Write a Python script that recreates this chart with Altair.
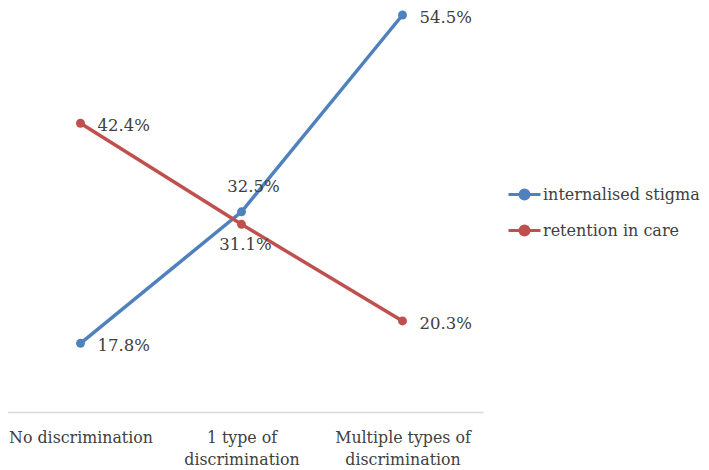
import altair as alt
import pandas as pd

categories = ["No discrimination", "1 type of discrimination", "Multiple types of discrimination"]
tick_lines = [["No discrimination"], ["1 type of", "discrimination"], ["Multiple types of", "discrimination"]]
series = ["internalised stigma", "retention in care"]
stigma = [17.8, 32.5, 54.5]
retention = [42.4, 31.1, 20.3]
colors = ["#4F81BD", "#C0504D"]

rows = []
for i, c in enumerate(categories):
    rows.append({"cat": c, "idx": i, "series": series[0], "value": stigma[i]})
    rows.append({"cat": c, "idx": i, "series": series[1], "value": retention[i]})
df = pd.DataFrame(rows)
df["label"] = df["value"].map(lambda v: f"{v:.1f}%")

parts = []
for c, lines in zip(categories, tick_lines):
    arr = "[" + ",".join("'" + l + "'" for l in lines) + "]"
    parts.append(f"datum.label == '{c}' ? {arr} : ")
label_expr = "".join(parts) + "datum.label"

FONT = "DejaVu Serif"
TEXT = "#404040"
FS = 16.5

x = alt.X("cat:N", sort=categories,
          scale=alt.Scale(type="point", padding=0.5),
          axis=alt.Axis(title=None, labelAngle=0, labelExpr=label_expr, ticks=False,
                        domainColor="#D9D9D9", domainWidth=1.5, labelPadding=18,
                        labelFont=FONT, labelFontSize=15.8, labelColor=TEXT,
                        labelLineHeight=22, labelBaseline="top", labelLimit=0))
y = alt.Y("value:Q", scale=alt.Scale(domain=[10.12, 54.5], nice=False, zero=False), axis=None)
color = alt.Color("series:N", sort=series,
                  scale=alt.Scale(domain=series, range=colors),
                  legend=alt.Legend(title=None, orient="none", legendX=507, legendY=162,
                                    labelFont=FONT, labelFontSize=16, labelColor=TEXT,
                                    labelLimit=0,
                                    symbolType="M-1,0L1,0M0.28,0A0.28,0.28,0,1,1,-0.28,0A0.28,0.28,0,1,1,0.28,0Z",
                                    symbolSize=1024, symbolStrokeWidth=3, rowPadding=8,
                                    labelOffset=1))

base = alt.Chart(df)
lines = base.mark_line(strokeWidth=3.5).encode(x=x, y=y, color=color, detail="series:N")
points = base.mark_point(filled=True, size=80, opacity=1).encode(x=x, y=y, color=color)

txt = dict(font=FONT, fontSize=FS, color=TEXT)
ends = base.mark_text(align="left", dx=17, dy=3, **txt).encode(
    x=x, y=y, text="label:N").transform_filter("datum.idx != 1")
mid_top = base.mark_text(align="center", dx=12, dy=-25, **txt).encode(
    x=x, y=y, text="label:N").transform_filter(f"datum.idx == 1 && datum.series == '{series[0]}'")
mid_bot = base.mark_text(align="center", dx=4, dy=21, **txt).encode(
    x=x, y=y, text="label:N").transform_filter(f"datum.idx == 1 && datum.series == '{series[1]}'")

chart = alt.layer(lines, points, ends, mid_top, mid_bot).properties(
    width=483, height=397,
    autosize=alt.AutoSizeParams(type="none"),
    padding={"left": -8, "top": 7, "right": 218, "bottom": 58},
).configure_view(stroke=None)

chart.save("out.html", embed_options={"renderer": "svg", "actions": False})
